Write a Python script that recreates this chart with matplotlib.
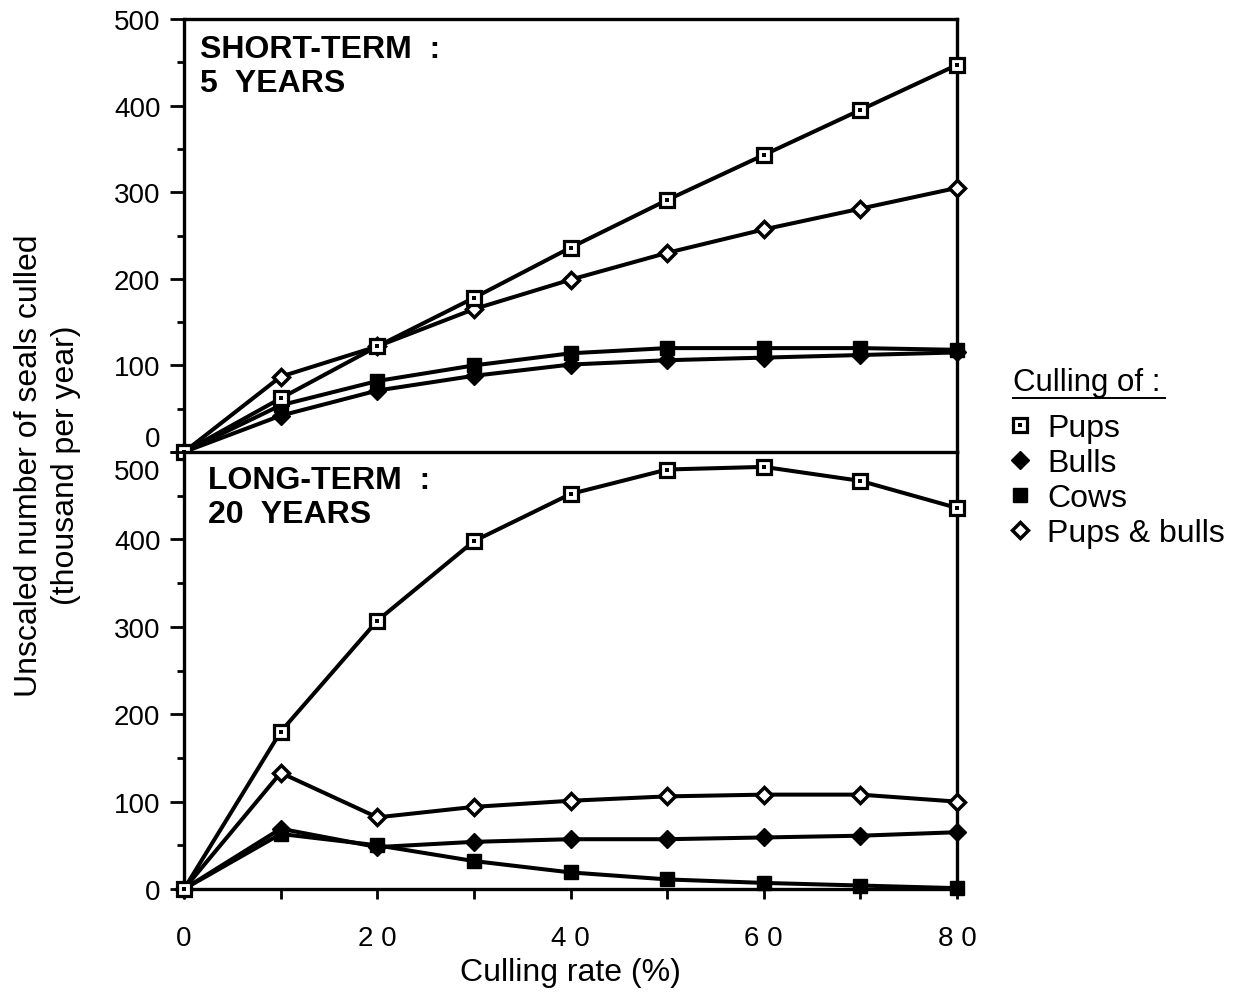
import matplotlib
matplotlib.use("Agg")
import matplotlib.pyplot as plt
from matplotlib.lines import Line2D
from matplotlib.legend_handler import HandlerTuple
import matplotlib.transforms as mtransforms
import numpy as np

plt.rcParams['font.family'] = ['Liberation Sans', 'DejaVu Sans']

# culling rate (%)
rate = [0, 10, 20, 30, 40, 50, 60, 70, 80]

# short-term (5 years), thousand seals per year
st_pups = [0, 62, 122, 178, 236, 291, 343, 395, 447]
st_bulls = [0, 42, 71, 88, 101, 106, 109, 112, 115]
st_cows = [0, 54, 82, 100, 114, 120, 120, 120, 118]
st_pupsbulls = [0, 87, 122, 165, 199, 230, 257, 281, 305]

# long-term (20 years)
lt_pups = [0, 180, 307, 398, 452, 480, 483, 467, 436]
lt_bulls = [0, 69, 48, 54, 57, 57, 59, 61, 65]
lt_cows = [0, 63, 50, 32, 19, 11, 7, 4, 1]
lt_pupsbulls = [0, 133, 82, 94, 101, 106, 108, 108, 100]

xticks = [0, 20, 40, 60, 80]
xticklabels = ['0', '2 0', '4 0', '6 0', '8 0']
yticks = [0, 100, 200, 300, 400, 500]

fig = plt.figure(figsize=(12.41, 9.95), dpi=100)
ax1 = fig.add_axes([0.1483, 0.5447, 0.6229, 0.4352])
ax2 = fig.add_axes([0.1483, 0.1055, 0.6229, 0.4392])

lw = 2.9
sq_kw = dict(marker='s', ms=9.5, mfc='white', mec='black', mew=2.3)
dot_kw = dict(marker='s', ms=2.3, mfc='black', mec='black', mew=0, ls='none')
bull_kw = dict(marker='D', ms=9, mfc='black', mec='black', mew=1)
cow_kw = dict(marker='s', ms=9.5, mfc='black', mec='black', mew=1)
pb_kw = dict(marker='D', ms=8.5, mfc='white', mec='black', mew=2.5)


def draw(ax, pups, bulls, cows, pb):
    ax.plot(rate, cows, color='black', lw=lw, clip_on=False, zorder=3, **cow_kw)
    ax.plot(rate, bulls, color='black', lw=lw, clip_on=False, zorder=3, **bull_kw)
    ax.plot(rate, pb, color='black', lw=lw, clip_on=False, zorder=4, **pb_kw)
    ax.plot(rate, pups, color='black', lw=lw, clip_on=False, zorder=5, **sq_kw)
    ax.plot(rate, pups, clip_on=False, zorder=6, **dot_kw)
    ax.set_xlim(0, 80)
    ax.set_ylim(0, 500)
    ax.set_yticks(yticks)
    ax.set_yticks(np.arange(50, 500, 100), minor=True)
    ax.tick_params(axis='y', which='major', direction='out', length=10, width=2,
                   labelsize=20, pad=7)
    ax.tick_params(axis='y', which='minor', direction='out', length=5, width=2)
    for s in ax.spines.values():
        s.set_linewidth(2.4)


draw(ax1, st_pups, st_bulls, st_cows, st_pupsbulls)
draw(ax2, lt_pups, lt_bulls, lt_cows, lt_pupsbulls)

ax1.set_xticks([])
ax1.spines['bottom'].set_visible(False)
ax2.set_xticks(xticks)
ax2.set_xticklabels(xticklabels)
ax2.set_xticks(np.arange(10, 80, 20), minor=True)
ax2.tick_params(axis='x', which='both', direction='out', length=7, width=2,
                labelsize=20, pad=19)

# keep the shared "0" / "500" labels apart
fig.canvas.draw()
ax1.get_yticklabels()[0].set_va('bottom')
lab500 = ax2.get_yticklabels()[-1]
lab500.set_va('top')
lab500.set_transform(lab500.get_transform() +
                     mtransforms.ScaledTranslation(0, -5 / 72, fig.dpi_scale_trans))

ax1.text(0.021, 0.965, 'SHORT-TERM  :\n5  YEARS', transform=ax1.transAxes,
         fontsize=23, fontweight='bold', va='top', ha='left', linespacing=1.15)
ax2.text(0.031, 0.97, 'LONG-TERM  :\n20  YEARS', transform=ax2.transAxes,
         fontsize=23, fontweight='bold', va='top', ha='left', linespacing=1.15)

ax2.set_xlabel('Culling rate (%)', fontsize=23, labelpad=4)
fig.text(0.038, 0.532, 'Unscaled number of seals culled\n(thousand per year)',
         rotation=90, ha='center', va='center', fontsize=23, linespacing=1.3)

# legend
h_pups = (Line2D([], [], ls='none', **sq_kw), Line2D([], [], **dot_kw))
h_bulls = Line2D([], [], ls='none', **bull_kw)
h_cows = Line2D([], [], ls='none', **cow_kw)
h_pb = Line2D([], [], ls='none', **pb_kw)
fig.text(0.8163, 0.615, 'Culling of :', fontsize=22.5, ha='left', va='center')
fig.add_artist(Line2D([0.8163, 0.939], [0.599, 0.599], color='black', lw=1.4))
fig.legend([h_pups, h_bulls, h_cows, h_pb],
           ['Pups', 'Bulls', 'Cows', 'Pups & bulls'],
           handler_map={tuple: HandlerTuple(ndivide=1)},
           loc='upper left', bbox_to_anchor=(0.809, 0.584), frameon=False,
           fontsize=23, handlelength=1.0, handletextpad=0.35, labelspacing=0.16,
           borderpad=0.0, borderaxespad=0.0)

fig.savefig('out.png', dpi=100, facecolor='white')
